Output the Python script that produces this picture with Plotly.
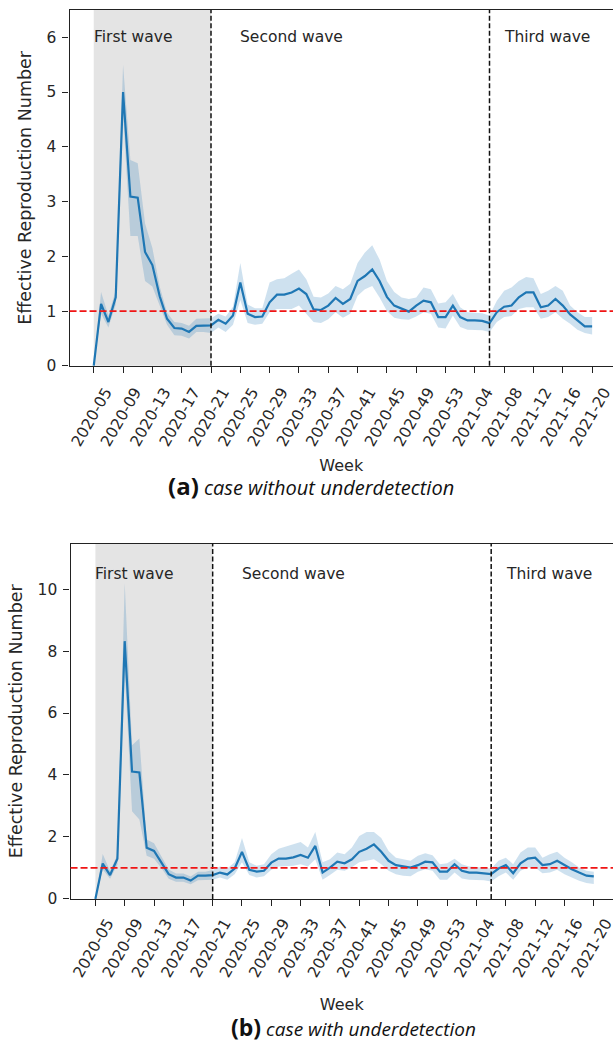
import plotly.graph_objects as go

# ---------------- data ----------------
tick_labels = ["2020-05", "2020-09", "2020-13", "2020-17", "2020-21", "2020-25",
               "2020-29", "2020-33", "2020-37", "2020-41", "2020-45", "2020-49",
               "2020-53", "2021-04", "2021-08", "2021-12", "2021-16", "2021-20"]
tick_step = 4  # one label every 4 weeks

# (a) case without underdetection
rt_a = [0.0, 1.13, 0.8, 1.25, 5.0, 3.09, 3.07, 2.08, 1.84, 1.27, 0.86, 0.69, 0.68, 0.62, 0.73, 0.74, 0.74,
        0.84, 0.77, 0.92, 1.52, 0.95, 0.89, 0.9, 1.16, 1.3, 1.3, 1.34, 1.41, 1.31, 1.03, 1.02, 1.1, 1.24,
        1.13, 1.22, 1.55, 1.64, 1.76, 1.55, 1.26, 1.1, 1.04, 0.99,
        1.1, 1.19, 1.16, 0.89, 0.89, 1.1, 0.89, 0.83, 0.83, 0.82, 0.78, 0.98, 1.08, 1.1, 1.25, 1.34, 1.34,
        1.07, 1.1, 1.22, 1.1, 0.94, 0.83, 0.72, 0.72]
hi_a = [0.0, 1.35, 0.92, 1.38, 5.5, 3.76, 3.7, 2.6, 2.15, 1.45, 0.97, 0.8, 0.78, 0.73, 0.86, 0.87, 0.87,
        0.95, 0.9, 1.08, 1.88, 1.12, 1.05, 1.05, 1.52, 1.58, 1.6, 1.68, 1.76, 1.58, 1.26, 1.25, 1.32, 1.46,
        1.4, 1.5, 1.88, 2.07, 2.2, 1.94, 1.55, 1.35, 1.25, 1.22,
        1.25, 1.43, 1.4, 1.14, 1.16, 1.31, 1.07, 0.98, 0.97, 0.96, 0.92, 1.19, 1.37, 1.43, 1.55, 1.62, 1.6,
        1.31, 1.37, 1.46, 1.37, 1.1, 0.98, 0.89, 0.89]
lo_a = [0.0, 0.95, 0.7, 1.12, 4.6, 2.37, 2.37, 1.55, 1.45, 1.08, 0.75, 0.56, 0.55, 0.5, 0.62, 0.62, 0.6,
        0.7, 0.62, 0.75, 1.2, 0.78, 0.75, 0.77, 0.98, 1.04, 1.04, 1.04, 1.1, 0.95, 0.8, 0.78, 0.85, 0.98,
        0.88, 0.95, 1.28, 1.4, 1.46, 1.25, 1.0, 0.88, 0.85, 0.84,
        0.9, 0.98, 0.95, 0.7, 0.68, 0.92, 0.71, 0.66, 0.66, 0.65, 0.62, 0.8, 0.89, 0.91, 1.04, 1.07, 1.07,
        0.86, 0.89, 0.98, 0.86, 0.77, 0.66, 0.6, 0.57]

# (b) case with underdetection
rt_b = [0.0, 1.14, 0.77, 1.3, 8.32, 4.11, 4.08, 1.65, 1.55, 1.17, 0.8, 0.69, 0.69, 0.59, 0.75, 0.75, 0.77,
        0.85, 0.79, 0.98, 1.52, 0.94, 0.88, 0.91, 1.17, 1.3, 1.3, 1.34, 1.42, 1.33, 1.71, 0.85, 1.01, 1.2,
        1.15, 1.28, 1.52, 1.62, 1.76, 1.52, 1.23, 1.09, 1.05, 1.01,
        1.09, 1.2, 1.18, 0.88, 0.88, 1.12, 0.91, 0.85, 0.85, 0.83, 0.8, 0.98, 1.09, 0.83, 1.15, 1.3, 1.33,
        1.09, 1.12, 1.23, 1.09, 0.96, 0.85, 0.75, 0.73]
hi_b = [0.0, 1.45, 0.9, 1.42, 10.2, 4.96, 5.18, 1.92, 1.8, 1.35, 0.95, 0.82, 0.82, 0.72, 0.88, 0.88, 0.93,
        1.05, 0.98, 1.18, 1.97, 1.18, 1.07, 1.12, 1.44, 1.62, 1.69, 1.76, 1.84, 1.66, 2.16, 1.18, 1.28, 1.5,
        1.44, 1.66, 2.03, 2.16, 2.16, 1.97, 1.55, 1.33, 1.28, 1.23,
        1.39, 1.47, 1.41, 1.12, 1.15, 1.3, 1.12, 1.05, 1.03, 1.01, 0.98, 1.23, 1.33, 1.12, 1.5, 1.66, 1.66,
        1.33, 1.44, 1.52, 1.33, 1.18, 1.01, 0.91, 0.88]
lo_b = [0.0, 0.95, 0.65, 1.1, 7.4, 2.83, 2.56, 1.39, 1.3, 1.0, 0.65, 0.55, 0.55, 0.47, 0.6, 0.62, 0.62,
        0.69, 0.62, 0.8, 1.18, 0.77, 0.69, 0.73, 0.94, 1.05, 1.05, 1.07, 1.12, 1.05, 1.28, 0.62, 0.77, 0.94,
        0.91, 1.02, 1.18, 1.23, 1.28, 1.12, 0.91, 0.8, 0.75, 0.73,
        0.88, 0.96, 0.91, 0.62, 0.62, 0.85, 0.66, 0.62, 0.62, 0.6, 0.56, 0.73, 0.85, 0.62, 0.91, 1.01, 1.01,
        0.83, 0.85, 0.94, 0.8, 0.69, 0.59, 0.51, 0.48]

wave_names = ["First wave", "Second wave", "Third wave"]
wave_label_x = [0, 20, 56]          # week index where each label starts
wave_bounds = [16, 54]              # week index of the dashed wave separators
first_wave_span = [0, 16]           # shaded first wave
threshold = 1.0

# ---------------- styling ----------------
FONT = "DejaVu Sans"
TXT = "#262626"
BLUE = "#1f77b4"
BAND = "rgba(31,119,180,0.22)"
x = list(range(len(rt_a)))
tickvals = [tick_step * k for k in range(len(tick_labels))]

fig = go.Figure()

panels = [
    dict(rt=rt_a, lo=lo_a, hi=hi_a, xa="x", ya="y", yr=[0, 6.5], ytv=[0, 1, 2, 3, 4, 5, 6],
         xr=[-3.3, 70.85], xdom=[69 / 616, 1.0], ydom=[(1047 - 369) / 1047, (1047 - 10) / 1047],
         label_y=6.0, shift=12, standoff=4, title_standoff=11),
    dict(rt=rt_b, lo=lo_b, hi=hi_b, xa="x2", ya="y2", yr=[0, 11.47], ytv=[0, 2, 4, 6, 8, 10],
         xr=[-3.39, 70.62], xdom=[70 / 616, 1.0], ydom=[(1047 - 906.7) / 1047, (1047 - 548.3) / 1047],
         label_y=10.5, shift=12, standoff=2, title_standoff=18),
]

shapes = []
annotations = []
for k, p in enumerate(panels):
    xa, ya = p["xa"], p["ya"]
    fig.add_trace(go.Scatter(x=x, y=p["lo"], mode="lines", line=dict(width=0, color=BAND),
                             hoverinfo="skip", showlegend=False, xaxis=xa, yaxis=ya))
    fig.add_trace(go.Scatter(x=x, y=p["hi"], mode="lines", line=dict(width=0, color=BAND),
                             fill="tonexty", fillcolor=BAND, hoverinfo="skip", showlegend=False,
                             xaxis=xa, yaxis=ya))
    fig.add_trace(go.Scatter(x=x, y=p["rt"], mode="lines", line=dict(width=2.2, color=BLUE),
                             showlegend=False, xaxis=xa, yaxis=ya))
    # shaded first wave
    shapes.append(dict(type="rect", xref=xa, yref=f"{ya} domain", x0=first_wave_span[0],
                       x1=first_wave_span[1], y0=0, y1=1, fillcolor="#e4e4e4", line_width=0,
                       layer="below"))
    # wave separators
    for b in wave_bounds:
        shapes.append(dict(type="line", xref=xa, yref=f"{ya} domain", x0=b, x1=b, y0=0, y1=1,
                           line=dict(color="#111111", width=1.5, dash="5px,2.5px"), layer="above"))
    # threshold
    shapes.append(dict(type="line", xref=f"{xa} domain", yref=ya, x0=0, x1=1, y0=threshold,
                       y1=threshold, line=dict(color="#f01515", width=1.7, dash="7px,3px"),
                       layer="above"))
    for name, lx in zip(wave_names, wave_label_x):
        annotations.append(dict(x=lx, y=p["label_y"], xref=xa, yref=ya, text=name, showarrow=False,
                                xanchor="left", yanchor="middle", xshift=-2,
                                font=dict(family=FONT, size=15.5, color=TXT)))

    axis_common = dict(showgrid=False, zeroline=False, showline=True, linecolor="#222222",
                       linewidth=1.2, ticks="outside", ticklen=6, tickwidth=1.1,
                       tickcolor="#222222", tickfont=dict(family=FONT, size=15.5, color=TXT))
    xkey = "xaxis" if k == 0 else "xaxis2"
    ykey = "yaxis" if k == 0 else "yaxis2"
    fig.update_layout(**{
        xkey: dict(axis_common, domain=p["xdom"], range=p["xr"], anchor=ya, mirror=True,
                   tickmode="array", tickvals=tickvals, ticktext=tick_labels, tickangle=-60,
                   ticklabelshift=p["shift"], ticklabelstandoff=p["standoff"],
                   ticklabeloverflow="allow",
                   title=dict(text="Week", font=dict(family=FONT, size=16, color=TXT),
                              standoff=p["title_standoff"])),
        ykey: dict(axis_common, domain=p["ydom"], range=p["yr"], anchor=xa, mirror=False,
                   tickmode="array", tickvals=p["ytv"], ticklabelstandoff=3,
                   title=dict(text="Effective Reproduction Number",
                              font=dict(family=FONT, size=17.5, color=TXT), standoff=10)),
    })

# captions
annotations.append(dict(x=312 / 616, y=(1047 - 490) / 1047, xref="paper", yref="paper",
                        text="<b><span style='font-size:24px'>(a)</span></b> <i>case without underdetection</i>",
                        showarrow=False, xanchor="center", yanchor="middle",
                        font=dict(family="Open Sans", size=20, color="#111111")))
annotations.append(dict(x=355 / 616, y=0, xref="paper", yref="paper",
                        text="<b><span style='font-size:23px'>(b)</span></b> <i>case with underdetection</i>",
                        showarrow=False, xanchor="center", yanchor="bottom", yshift=-7,
                        font=dict(family="Open Sans", size=19, color="#111111")))

fig.update_layout(width=616, height=1047, margin=dict(l=0, r=0, t=0, b=0),
                  paper_bgcolor="white", plot_bgcolor="white", shapes=shapes,
                  annotations=annotations, showlegend=False)

fig.write_html("out.html")
